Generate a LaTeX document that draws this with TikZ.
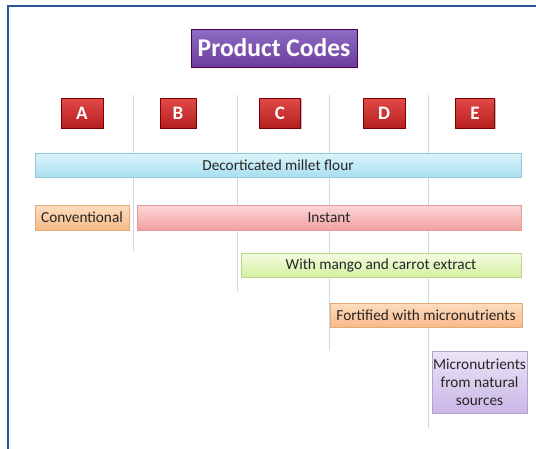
\documentclass[tikz,border=0pt]{standalone}
\usepackage{fontspec}
\setmainfont{Carlito}
\usetikzlibrary{shadows}
\definecolor{framecol}{HTML}{2E5597}
\definecolor{vline}{HTML}{C9D9E6}
\definecolor{HTML8F6CC4}{HTML}{8F6CC4}
\definecolor{HTML6A3D9C}{HTML}{6A3D9C}
\definecolor{HTMLE24A4A}{HTML}{E24A4A}
\definecolor{HTMLB71F1F}{HTML}{B71F1F}
\definecolor{HTML92C7D6}{HTML}{92C7D6}
\definecolor{HTMLDDF4FB}{HTML}{DDF4FB}
\definecolor{HTMLA8DFF0}{HTML}{A8DFF0}
\definecolor{HTMLE3A977}{HTML}{E3A977}
\definecolor{HTMLFDDDBF}{HTML}{FDDDBF}
\definecolor{HTMLF8BA88}{HTML}{F8BA88}
\definecolor{HTMLE49A9A}{HTML}{E49A9A}
\definecolor{HTMLFBD7D7}{HTML}{FBD7D7}
\definecolor{HTMLF2A0A0}{HTML}{F2A0A0}
\definecolor{HTMLBCD68E}{HTML}{BCD68E}
\definecolor{HTMLF3FCE0}{HTML}{F3FCE0}
\definecolor{HTMLD5F0A2}{HTML}{D5F0A2}
\definecolor{HTMLB4A2D3}{HTML}{B4A2D3}
\definecolor{HTMLECE4F6}{HTML}{ECE4F6}
\definecolor{HTMLC9B7E6}{HTML}{C9B7E6}
\tikzset{
  box/.style={draw, line width=0.6pt, inner sep=0pt, align=center, font=\fontsize{15.3}{18}\selectfont, text=black!85,
    drop shadow={shadow xshift=1pt, shadow yshift=-1.2pt, opacity=0.25, fill=black}},
  title/.style={box, draw=violet!60!black, top color=HTML8F6CC4, bottom color=HTML6A3D9C, text=white,
    font=\fontsize{25.5}{30}\bfseries\selectfont},
  letter/.style={box, draw=red!50!black, top color=HTMLE24A4A, bottom color=HTMLB71F1F, text=white,
    font=\fontsize{19}{22}\bfseries\selectfont, minimum width=40pt, minimum height=30pt},
  bluebar/.style={box, draw=HTML92C7D6, top color=HTMLDDF4FB, bottom color=HTMLA8DFF0},
  peach/.style={box, draw=HTMLE3A977, top color=HTMLFDDDBF, bottom color=HTMLF8BA88},
  pink/.style={box, draw=HTMLE49A9A, top color=HTMLFBD7D7, bottom color=HTMLF2A0A0},
  green/.style={box, draw=HTMLBCD68E, top color=HTMLF3FCE0, bottom color=HTMLD5F0A2},
  lavender/.style={box, draw=HTMLB4A2D3, top color=HTMLECE4F6, bottom color=HTMLC9B7E6},
  sep/.style={draw=vline, line width=0.9pt}
}
\begin{document}
\begin{tikzpicture}[x=1pt,y=-1pt]
\fill[white] (0,0) rectangle (536,448);
\useasboundingbox (0,0) rectangle (536,448);
\begin{scope}
\clip (0,0) rectangle (536,448);
\draw[framecol, line width=2pt] (8,5.5) rectangle (560,470);
\draw[HTMLDDF4FB, line width=0.8pt] (10,7.5) -- (10,470);
\end{scope}
% separator lines
\coordinate (s1t) at (133,95); \coordinate (s1b) at (133,251);
\coordinate (s2t) at (237,95); \coordinate (s2b) at (237,292);
\coordinate (s3t) at (329,95); \coordinate (s3b) at (329,351);
\coordinate (s4t) at (428,95); \coordinate (s4b) at (428,428);
\draw[sep] (s1t) -- (s1b);
\draw[sep] (s2t) -- (s2b);
\draw[sep] (s3t) -- (s3b);
\draw[sep] (s4t) -- (s4b);
% title
\node[title, minimum width=166pt, minimum height=38pt] (title) at (274,48) {Product Codes};
% letters
\node[letter, minimum width=42pt] (A) at (82,113) {A};
\node[letter, minimum width=36pt] (B) at (178,113) {B};
\node[letter, minimum width=41pt] (C) at (280,113) {C};
\node[letter, minimum width=42pt] (D) at (384,113) {D};
\node[letter, minimum width=39pt] (E) at (475,113) {E};
% bars
\node[bluebar, minimum width=486pt, minimum height=24pt] (flour) at (278,165) {Decorticated millet flour};
\node[peach, minimum width=94pt, minimum height=25pt] (conv) at (82,217.5) {Conventional};
\node[pink, minimum width=384pt, minimum height=25pt] (inst) at (329,217.5) {Instant};
\node[green, minimum width=280pt, minimum height=24pt] (mango) at (381,265) {With mango and carrot extract};
\node[peach, minimum width=192pt, minimum height=24pt] (fort) at (426,315) {Fortified with micronutrients};
\node[lavender, minimum width=95pt, minimum height=62pt] (micro) at (479.5,382) {Micronutrients\\from natural\\sources};
\end{tikzpicture}
\end{document}
